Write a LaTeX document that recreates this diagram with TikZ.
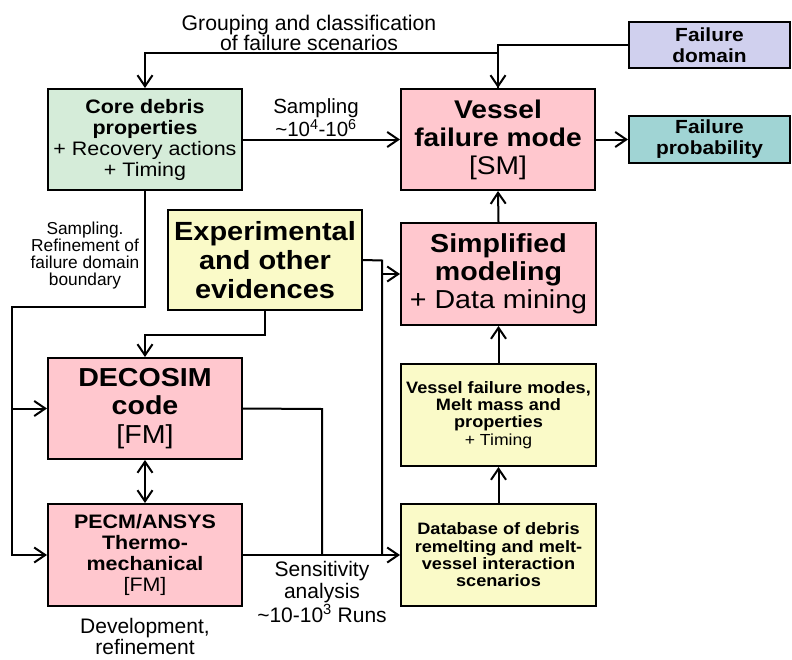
\documentclass[tikz,border=0pt]{standalone}
\usepackage{fontspec}
\setmainfont{Liberation Sans}
\newfontfamily\boxfont{Liberation Sans}[FakeStretch=1.1]
\usetikzlibrary{arrows.meta}
\newcommand\fsz[2]{\fontsize{#1}{#2}\selectfont}
\definecolor{cgreen}{RGB}{213,236,217}
\definecolor{cpink}{RGB}{255,199,206}
\definecolor{clav}{RGB}{208,208,238}
\definecolor{cteal}{RGB}{160,212,212}
\definecolor{cyell}{RGB}{250,250,200}
\begin{document}
\begin{tikzpicture}[x=1pt,y=-1pt,
  box/.style={draw, line width=2pt, align=center, inner sep=1pt,
    minimum width=194pt, minimum height=101pt},
  ln/.style={line width=2pt},
  tip/.tip={Straight Barb[length=11pt,width=15pt]},
  arr/.style={line width=2pt, -tip},
  darr/.style={line width=2pt, tip-tip},
  lbl/.style={align=center, inner sep=0pt}]
\useasboundingbox (0,0) rectangle (792,659);

% boxes
\node[box, fill=cgreen, font=\boxfont\fsz{19.5}{21}] (core) at (145,139.5)
  {\textbf{Core debris}\\\textbf{properties}\\+ Recovery actions\\+ Timing};
\node[box, fill=cpink, font=\boxfont\fsz{25.6}{28}] (vessel) at (498,139.5)
  {\textbf{Vessel}\\\textbf{failure mode}\\{[SM]}};
\node[box, fill=clav, font=\boxfont\fsz{19}{21}, minimum width=161pt, minimum height=46pt] (fdom) at (709.5,45)
  {\textbf{Failure}\\\textbf{domain}};
\node[box, fill=cteal, font=\boxfont\fsz{19}{21}, minimum width=161pt, minimum height=47pt] (fprob) at (709.5,139.5)
  {\textbf{Failure}\\\textbf{probability}};
\node[box, fill=cyell, font=\boxfont\fsz{26.3}{28.6}, minimum height=100pt] (exp) at (265,260)
  {\textbf{Experimental}\\\textbf{and other}\\\textbf{evidences}};
\node[box, fill=cpink, font=\boxfont\fsz{26}{28}, minimum width=195pt, minimum height=102pt] (simp) at (498.5,274)
  {\textbf{Simplified}\\\textbf{modeling}\\+ Data mining};
\node[box, fill=cpink, font=\boxfont\fsz{26}{28.3}] (deco) at (145,408.5)
  {\textbf{DECOSIM}\\\textbf{code}\\{[FM]}};
\node[box, fill=cpink, font=\boxfont\fsz{19.5}{20.8}, minimum height=102pt] (pecm) at (145,555)
  {\textbf{PECM/ANSYS}\\\textbf{Thermo-}\\\textbf{mechanical}\\{[FM]}};
\node[box, fill=cyell, font=\boxfont\fsz{16.5}{17.3}, minimum width=195pt, minimum height=102pt] (vfm) at (498.5,415)
  {\textbf{Vessel failure modes,}\\\textbf{Melt mass and}\\\textbf{properties}\\{\fsz{16}{17.3}+ Timing}};
\node[box, fill=cyell, font=\boxfont\fsz{16.5}{17.3}, minimum width=195pt, minimum height=102pt] (db) at (498.5,555)
  {\textbf{Database of debris}\\\textbf{remelting and melt-}\\\textbf{vessel interaction}\\\textbf{scenarios}};

% junction points of the connector network
\coordinate (lb) at (12,307);
\coordinate (rb) at (382,260.5);
\coordinate (dc) at (322,409);

% connectors
\draw[arr] (vessel.north) -- ++(0,-35) -| (core.north);
\draw[arr] (fdom.west) -| (vessel.north);
\draw[arr] (core.east) -- (vessel.west);
\draw[arr] (vessel.east) -- (fprob.west);
\draw[arr] (simp.north) -- (vessel.south);
\draw[arr] (vfm.north) -- (simp.south);
\draw[arr] (db.north) -- (vfm.south);
\draw[arr] (core.south) |- (lb) |- (pecm.west);
\draw[arr] (lb |- deco.west) -- (deco.west);
\draw[arr] (exp.south) -- ++(0,24) -| (deco.north);
\draw[darr] (deco.south) -- (pecm.north);
\draw[ln] (exp.east) -- (rb) -- (rb |- db.west);
\draw[arr] (rb |- simp.west) -- (simp.west);
\draw[ln] (deco.east) -- (dc) -- (dc |- pecm.east);
\draw[arr] (pecm.east) -- (db.west);

% labels
\node[lbl, font=\fsz{21.2}{20}] (tgroup) at (309,33) {Grouping and classification\\of failure scenarios};
\node[lbl, font=\fsz{20.5}{19}] (tsamp) at (316,118) {Sampling\\\textasciitilde10\textsuperscript{4}-10\textsuperscript{6}};
\node[lbl, font=\fsz{17.3}{17}] (trefine) at (85,256) {Sampling.\\Refinement of\\failure domain\\boundary};
\node[lbl, font=\fsz{21}{22}] (tsens) at (322,592) {Sensitivity\\analysis\\\textasciitilde10-10\textsuperscript{3} Runs};
\node[lbl, font=\fsz{21}{21}] (tdev) at (145,636) {Development,\\refinement};
\end{tikzpicture}
\end{document}
